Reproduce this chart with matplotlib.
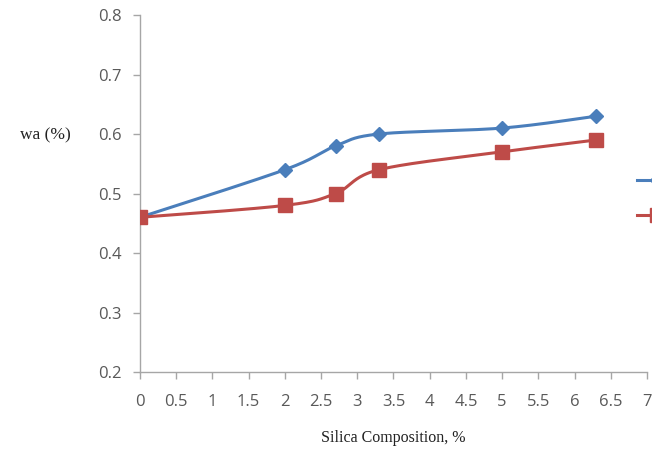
import numpy as np
import matplotlib.pyplot as plt
from matplotlib.lines import Line2D


# Silica content (%) and measured water absorption (%)
silica = [0, 2, 2.7, 3.3, 5, 6.3]
wa_series1 = [0.46, 0.54, 0.58, 0.60, 0.61, 0.63]
wa_series2 = [0.46, 0.48, 0.50, 0.54, 0.57, 0.59]

x_ticks = np.arange(0, 7.01, 0.5)
y_ticks = np.arange(0.2, 0.81, 0.1)

BLUE = '#4a7ebb'
RED = '#be4b48'


def smooth(xs, ys, steps=40):
    """Spreadsheet-style smoothed line: cubic Bezier segments through each point."""
    pts = np.column_stack([xs, ys]).astype(float)
    padded = np.vstack([pts[0], pts, pts[-1]])
    out = []
    for i in range(len(pts) - 1):
        p0, p1, p2, p3 = padded[i], padded[i + 1], padded[i + 2], padded[i + 3]
        c1 = p1 + (p2 - p0) / 6
        c2 = p2 - (p3 - p1) / 6
        t = np.linspace(0, 1, steps)[:, None]
        seg = ((1 - t) ** 3) * p1 + 3 * ((1 - t) ** 2) * t * c1 \
            + 3 * (1 - t) * t ** 2 * c2 + t ** 3 * p2
        out.append(seg if i == 0 else seg[1:])
    curve = np.vstack(out)
    return curve[:, 0], curve[:, 1]


fig = plt.figure(figsize=(6.52, 4.62), dpi=100)
ax = fig.add_axes([0.2147, 0.1948, 0.7776, 0.7727])

for ys, color, marker, size in [(wa_series1, BLUE, 'D', 7),
                                (wa_series2, RED, 's', 9.5)]:
    sx, sy = smooth(silica, ys)
    ax.plot(sx, sy, color=color, lw=2.2, solid_capstyle='round', zorder=2)
    ax.plot(silica, ys, ls='none', marker=marker, ms=size, color=color,
            mec=color, zorder=3)

ax.set_xlim(0, 7)
ax.set_ylim(0.2, 0.8)
ax.set_xticks(x_ticks)
ax.set_xticklabels([f'{v:g}' for v in x_ticks])
ax.set_yticks(y_ticks)
ax.set_yticklabels([f'{v:.1f}' for v in y_ticks])

for side in ['top', 'right']:
    ax.spines[side].set_visible(False)
for side in ['left', 'bottom']:
    ax.spines[side].set_color('#a6a6a6')
    ax.spines[side].set_linewidth(1.0)
ax.tick_params(axis='both', direction='out', length=5, width=1.0,
               color='#a6a6a6', labelcolor='#595959', labelsize=12)
ax.tick_params(axis='x', pad=11)
ax.tick_params(axis='y', pad=8)
for lbl in ax.get_xticklabels() + ax.get_yticklabels():
    lbl.set_family('Open Sans')

ax.set_xlabel('Silica Composition, %', family='Liberation Serif',
              fontsize=11.5, color='#222222', labelpad=14)
fig.text(0.031, 0.708, 'wa (%)', family='Liberation Serif', fontsize=12.5,
         color='#222222', va='center', ha='left')

# legend keys sit at the right edge of the figure, mostly past it
handles = [Line2D([], [], color=BLUE, lw=2.2, marker='D', ms=7),
           Line2D([], [], color=RED, lw=2.2, marker='s', ms=9.5)]
fig.legend(handles, ['', ''], loc='upper left',
           bbox_to_anchor=(0.967, 0.637), frameon=False, handlelength=2.7,
           labelspacing=1.3, fontsize=11, borderaxespad=0, handletextpad=0)

fig.savefig('out.png', dpi=100)
